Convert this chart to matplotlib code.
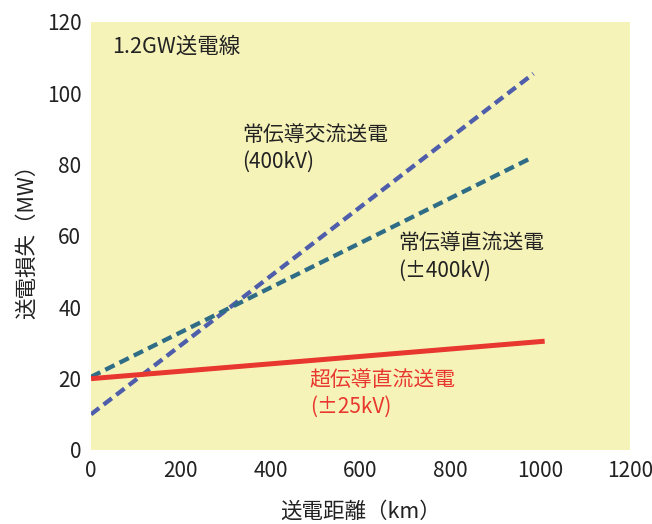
import matplotlib
matplotlib.use("Agg")
import matplotlib.pyplot as plt

plt.rcParams['font.family'] = ['Noto Sans CJK JP', 'DejaVu Sans']

# distance (km) / loss (MW), end points of each line
ac_x = [0, 985]
ac_y = [10, 105.5]
dc_x = [0, 982]
dc_y = [20.5, 82]
sc_x = [0, 1010]
sc_y = [20, 30.5]

xticks = [0, 200, 400, 600, 800, 1000, 1200]
yticks = [0, 20, 40, 60, 80, 100, 120]

fig = plt.figure(figsize=(6.52, 5.24), dpi=100)
ax = fig.add_axes([91/652, 74/524, 539/652, 428/524])
ax.set_facecolor("#f6f3b9")

ax.plot(ac_x, ac_y, color="#4f5eab", lw=3.1, dashes=(2.4, 1.3), solid_capstyle="butt")
ax.plot(dc_x, dc_y, color="#2f6c86", lw=3.1, dashes=(2.4, 1.3), solid_capstyle="butt")
ax.plot(sc_x, sc_y, color="#e8372e", lw=3.6, solid_capstyle="butt")

ax.set_xlim(0, 1200)
ax.set_ylim(0, 120)
ax.set_xticks(xticks)
ax.set_yticks(yticks)
ax.tick_params(length=0, labelsize=15, pad=7, colors="#222222")
for s in ax.spines.values():
    s.set_visible(False)

ax.set_xlabel("送電距離（km）", fontsize=15.5, labelpad=14, color="#222222")
ax.set_ylabel("送電損失（MW）", fontsize=15.5, labelpad=6, color="#222222")

ax.text(48, 113, "1.2GW送電線", fontsize=15.5, va="center", color="#222222")
ax.text(336, 84.5, "常伝導交流送電\n(400kV)", fontsize=15, va="center",
        linespacing=1.25, color="#222222")
ax.text(684, 54, "常伝導直流送電\n(±400kV)", fontsize=15, va="center",
        linespacing=1.25, color="#222222")
ax.text(487, 15.8, "超伝導直流送電\n(±25kV)", fontsize=15, va="center",
        linespacing=1.25, color="#e8372e")

fig.savefig("out.png", dpi=100)
